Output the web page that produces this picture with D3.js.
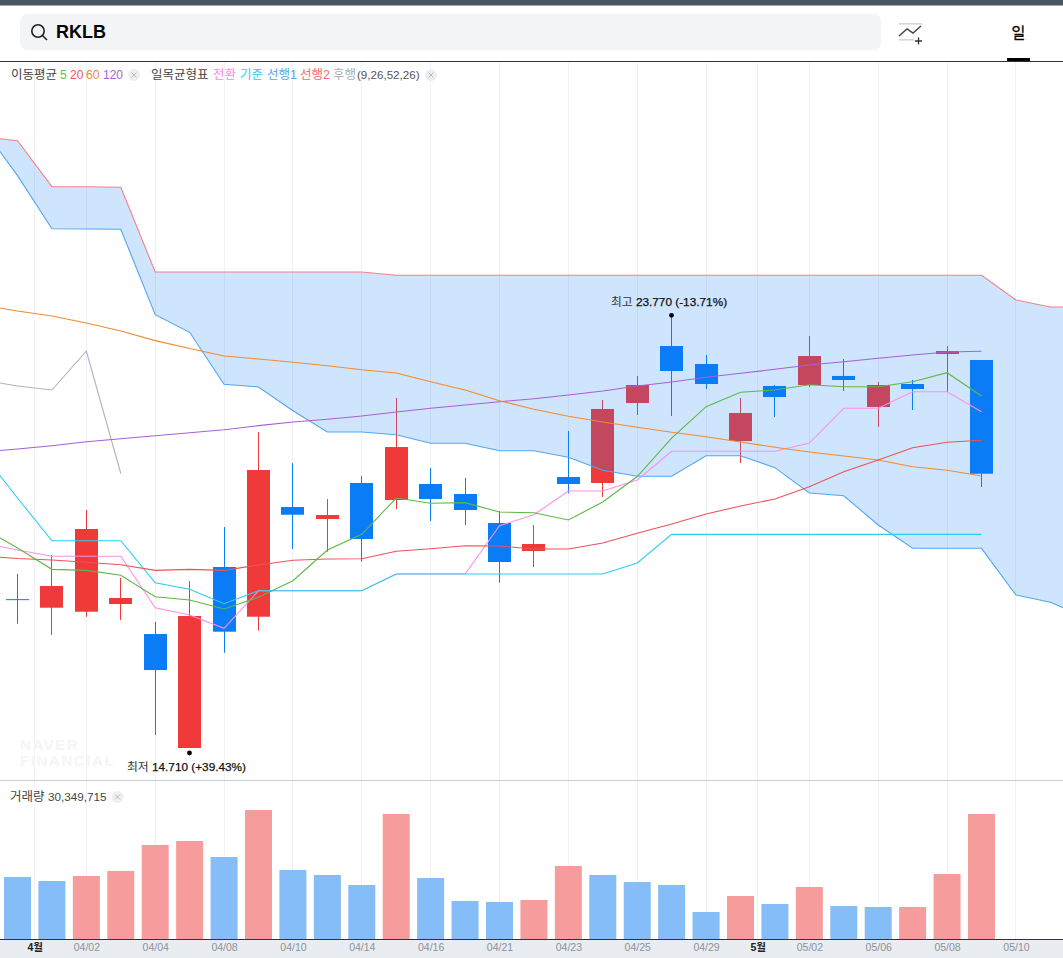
<!DOCTYPE html>
<html lang="ko">
<head>
<meta charset="utf-8">
<script src="https://cdn.jsdelivr.net/npm/d3@7/dist/d3.min.js"></script>
<style>
html,body{margin:0;padding:0;background:#fff;overflow:hidden}
svg{display:block}
text{font-family:"Liberation Sans","Noto Sans CJK KR",sans-serif}
</style>
</head>
<body>
<svg id="c" width="1063" height="958"></svg>
<script>
// Session index runs from -1 (off-screen left) to 31 (cloud projected to the right)
const openP  = [17.832,17.652,17.568,17.730,17.100,14.710,18.506,17.463,19.764,19.513,20.268,19.911,20.247,20.037,19.429,18.841,20.393,20.268,21.945,23.141,22.763,21.148,22.302,22.323,22.512,21.861,22.344,22.973,22.847];
const highP  = [18.359,18.757,19.701,18.275,17.352,18.212,19.345,21.337,20.687,19.932,20.414,22.050,20.582,20.372,19.680,19.387,21.358,22.008,22.512,23.770,22.952,22.050,22.323,23.351,22.868,22.386,22.428,23.141,22.847];
const lowP   = [17.317,17.080,17.463,17.394,14.982,14.710,16.708,17.170,18.883,18.827,18.617,19.722,19.470,19.387,18.176,18.506,20.052,19.974,21.694,21.673,22.239,20.687,21.652,22.281,22.197,21.442,21.798,22.176,20.184];
const closeP = [17.826,18.107,19.303,17.856,16.345,17.478,17.149,20.540,19.602,19.596,19.093,21.022,19.932,19.701,18.611,18.988,20.247,21.820,22.323,22.617,22.344,21.736,22.071,22.931,22.428,22.323,22.239,23.036,20.462];

const ma5   = [19.324,18.904,18.457,18.436,18.332,17.883,17.814,17.625,17.870,18.218,18.862,19.191,19.953,19.842,19.855,19.659,19.645,19.492,19.869,20.404,21.211,21.868,22.170,22.218,22.329,22.287,22.287,22.392,22.581,22.092];
const ma20  = [18.737,18.684,18.653,18.604,18.554,18.436,18.457,18.436,18.548,18.646,18.673,18.680,18.835,18.889,18.952,18.946,18.883,18.883,19.009,19.212,19.408,19.617,19.785,19.932,20.190,20.504,20.750,21.008,21.121,21.163];
const ma60  = [24.001,23.875,23.770,23.623,23.455,23.254,23.088,22.931,22.868,22.799,22.728,22.642,22.575,22.392,22.218,21.994,21.813,21.667,21.547,21.436,21.331,21.239,21.128,21.017,20.918,20.834,20.750,20.610,20.534,20.414];
const ma120 = [20.918,20.981,21.050,21.134,21.197,21.260,21.323,21.386,21.470,21.547,21.604,21.673,21.757,21.835,21.904,21.973,22.036,22.113,22.197,22.302,22.386,22.485,22.568,22.652,22.742,22.812,22.883,22.952,23.015,23.030];
const conversion = [19.009,18.862,18.730,18.730,18.730,17.652,17.499,17.220,18.008,18.008,18.008,18.008,18.359,18.359,18.359,19.372,19.602,20.100,20.100,20.330,20.932,20.932,20.932,20.932,21.106,21.835,21.835,22.182,22.182,21.763];
const baseLine   = [20.876,19.953,19.057,19.057,19.057,18.176,18.038,17.736,18.008,18.008,18.008,18.008,18.359,18.359,18.359,18.359,18.359,18.359,18.359,18.590,19.191,19.191,19.191,19.191,19.191,19.191,19.191,19.191,19.191,19.191];
const span1 = [27.705,26.713,25.601,25.595,25.588,23.797,23.428,22.338,22.281,21.784,21.337,21.337,21.280,21.100,21.100,20.945,20.945,20.806,20.534,20.408,20.408,20.840,20.840,20.589,20.058,20.001,19.387,18.898,18.898,18.898,17.918,17.766,17.463];
const span2 = [27.524,27.447,26.482,26.482,26.469,24.693,24.693,24.693,24.693,24.693,24.693,24.693,24.624,24.624,24.624,24.624,24.624,24.624,24.624,24.624,24.624,24.624,24.624,24.624,24.624,24.624,24.624,24.624,24.624,24.624,24.106,23.959,23.959];
const lagging = [22.428,22.302,22.218,23.036,20.467];

const volume = [15050000,14080000,15300000,16510000,22820000,23790000,19910000,31320000,16750000,15540000,13110000,30349000,14810000,9230000,8980000,9470000,17720000,15540000,13840000,13110000,6560000,10440000,8500000,12630000,8010000,7770000,7770000,15780000,30349715];
const volumeUp = [0,0,1,1,1,1,0,1,0,0,0,1,0,0,0,1,1,0,0,0,0,1,0,1,0,0,1,1,1];

const tickPositions = [0.5,2,4,6,8,10,12,14,16,18,20,21.5,23,25,27,29];
const tickLabels = ["4월","04/02","04/04","04/08","04/10","04/14","04/16","04/21","04/23","04/25","04/29","5월","05/02","05/06","05/08","05/10"];

const maLegend = [["5","#5cc43f",60],["20","#f5555a",70],["60","#f58a2c",86],["120","#a860dc",103]];
const ichiLegend = [["전환","#ff85e6",213],["기준","#2ccdf0",240],["선행1","#53a6f2",267],["선행2","#f7696e",300],["후행","#a9aeb8",333]];

const W = 1063, H = 958;
const RED = "#f03a3a", BLUE = "#0a7cf5";
const svg = d3.select("#c");

const x = d3.scaleLinear().domain([0,28]).range([17.5,981.5]);
const y = d3.scaleLinear().domain([14.71,23.77]).range([748,316]);
const yV = d3.scaleLinear().domain([0,30349715]).range([939,814]);
const px = i => Math.floor(x(i)) + 0.5;

const defs = svg.append("defs");
defs.append("clipPath").attr("id","main").append("rect").attr("x",0).attr("y",62).attr("width",W).attr("height",718);

// header
svg.append("rect").attr("width",W).attr("height",5.5).attr("fill","#45565f");
svg.append("rect").attr("x",20).attr("y",14).attr("width",861).attr("height",36).attr("rx",7).attr("fill","#f2f4f6");
svg.append("circle").attr("cx",38).attr("cy",31).attr("r",6.2).attr("fill","none").attr("stroke","#222").attr("stroke-width",1.6);
svg.append("line").attr("x1",42.5).attr("y1",35.5).attr("x2",47).attr("y2",40).attr("stroke","#222").attr("stroke-width",1.6);
svg.append("text").attr("x",56).attr("y",38).attr("font-size",18).attr("font-weight",700).attr("fill","#000").text("RKLB");
svg.append("rect").attr("x",899).attr("y",23).attr("width",23).attr("height",1.6).attr("fill","#d4d6da");
svg.append("rect").attr("x",899).attr("y",39).attr("width",15).attr("height",1.6).attr("fill","#d4d6da");
svg.append("polyline").attr("points","899,36 907,29 913,33 921,26").attr("fill","none").attr("stroke","#444").attr("stroke-width",1.4);
svg.append("path").attr("d","M915 41H922M918.5 37.5V44.5").attr("stroke","#333").attr("stroke-width",1.3);
svg.append("text").attr("x",1018.5).attr("y",38).attr("text-anchor","middle").attr("font-size",15).attr("font-weight",400).attr("stroke","#000").attr("stroke-width",0.3).attr("fill","#000").text("일");
svg.append("rect").attr("x",0).attr("y",61).attr("width",W).attr("height",1).attr("fill","#333");
svg.append("rect").attr("x",1007).attr("y",58).attr("width",23).attr("height",3).attr("fill","#000");

// grid
const grid = svg.append("g");
grid.selectAll("line").data(tickPositions).join("line")
  .attr("x1",d=>Math.floor(x(d))+0.5).attr("x2",d=>Math.floor(x(d))+0.5)
  .attr("y1",62).attr("y2",939).attr("stroke","#f0f2f6").attr("stroke-width",1);

// watermark
const wm = svg.append("g").attr("font-size",15).attr("font-weight",700).attr("fill","#f4f5f8").attr("letter-spacing",1.6);
wm.append("text").attr("x",20).attr("y",750).text("NAVER");
wm.append("text").attr("x",20).attr("y",766).text("FINANCIAL");

const main = svg.append("g").attr("clip-path","url(#main)");

// candles
const idx = d3.range(openP.length);
const up = i => closeP[i] >= openP[i];
main.append("g").selectAll("line").data(idx).join("line")
  .attr("x1",px).attr("x2",px)
  .attr("y1",i=>y(highP[i])).attr("y2",i=>y(lowP[i]))
  .attr("stroke",i=>up(i)?RED:BLUE).attr("stroke-width",1);
main.append("g").selectAll("rect").data(idx).join("rect")
  .attr("x",i=>Math.floor(x(i))-11).attr("width",23)
  .attr("y",i=>y(Math.max(openP[i],closeP[i])))
  .attr("height",i=>Math.max(1,Math.abs(y(openP[i])-y(closeP[i]))))
  .attr("fill",i=>up(i)?RED:BLUE);

// cloud, translucent over the candles
const cloudIdx = d3.range(span1.length);
main.append("path")
  .attr("d",d3.area().x(i=>x(i-1)).y0(i=>y(span1[i])).y1(i=>y(span2[i]))(cloudIdx))
  .attr("fill","#0a7cf5").attr("fill-opacity",0.2);

// lines
const lineOf = arr => d3.line().x((d,i)=>x(i-1)).y(d=>y(d))(arr);
const lines = [
  [span2,"#f77f85"],[span1,"#53a6f2"],[lagging,"#aeb2bd"],
  [conversion,"#ff8ee8"],[baseLine,"#2ccdf0"],
  [ma120,"#a860d8"],[ma60,"#f58a2c"],[ma20,"#ee5258"],[ma5,"#5cb946"]
];
main.append("g").selectAll("path").data(lines).join("path")
  .attr("d",d=>lineOf(d[0])).attr("fill","none").attr("stroke",d=>d[1]).attr("stroke-width",1.1);

// high / low markers
const iHigh = d3.maxIndex(highP);
const iLow = d3.minIndex(lowP);
svg.append("circle").attr("cx",px(iHigh)).attr("cy",y(highP[iHigh])-0.7).attr("r",2.4).attr("fill","#000");
svg.append("circle").attr("cx",px(iLow)).attr("cy",y(lowP[iLow])+5).attr("r",2.4).attr("fill","#000");
function extreme(cx,yy,word,rest){
  const t = svg.append("text").attr("x",cx).attr("y",yy).attr("text-anchor","middle").attr("font-size",11.8).attr("fill","#111");
  t.append("tspan").attr("fill","#333").text(word+" ");
  t.append("tspan").attr("stroke","#111").attr("stroke-width",0.25).text(rest);
}
extreme(669,305.5,"최고","23.770 (-13.71%)");
extreme(186.5,771,"최저","14.710 (+39.43%)");

// pane divider
svg.append("rect").attr("x",0).attr("y",780).attr("width",W).attr("height",1).attr("fill","#c6ccd6");

// volume bars
svg.append("g").selectAll("rect").data(idx).join("rect")
  .attr("x",i=>x(i)-13.5).attr("width",27)
  .attr("y",i=>yV(volume[i])).attr("height",i=>yV(0)-yV(volume[i]))
  .attr("fill",i=>volumeUp[i]?"#f79c9c":"#85bdf8");

// legends
function closeBtn(cx,cy){
  svg.append("circle").attr("cx",cx).attr("cy",cy).attr("r",6).attr("fill","#eeeff1");
  svg.append("path").attr("d",`M${cx-2.5} ${cy-2.5}L${cx+2.5} ${cy+2.5}M${cx+2.5} ${cy-2.5}L${cx-2.5} ${cy+2.5}`).attr("stroke","#bbb").attr("stroke-width",1);
}
const leg = svg.append("g").attr("font-size",12.5);
leg.append("text").attr("x",11).attr("y",79).attr("fill","#444").text("이동평균");
maLegend.forEach(d=>leg.append("text").attr("x",d[2]).attr("y",79).attr("font-size",12).attr("fill",d[1]).text(d[0]));
closeBtn(134,75);
leg.append("text").attr("x",151).attr("y",79).attr("fill","#444").text("일목균형표");
ichiLegend.forEach(d=>leg.append("text").attr("x",d[2]).attr("y",79).attr("fill",d[1]).text(d[0]));
leg.append("text").attr("x",357).attr("y",79).attr("font-size",11.6).attr("fill","#555").text("(9,26,52,26)");
closeBtn(431,75);
const volText = leg.append("text").attr("x",10).attr("y",801).attr("fill","#444");
volText.append("tspan").text("거래량 ");
volText.append("tspan").attr("font-size",11.7).text(d3.format(",")(volume[volume.length-1]));
closeBtn(117.5,797);

// time axis
svg.append("rect").attr("x",0).attr("y",939).attr("width",W).attr("height",19).attr("fill","#e9ecf0");
const axis = svg.append("g").attr("transform","translate(0,939)")
  .call(d3.axisBottom(x).tickValues(tickPositions).tickSize(0).tickPadding(5).tickFormat((d,i)=>tickLabels[i]));
axis.select(".domain").attr("stroke","#333").attr("stroke-width",1).attr("d",`M0 0.5H${W}`);
axis.selectAll("text").attr("font-size",10.5)
  .attr("font-family",'"Liberation Sans","Noto Sans CJK KR",sans-serif')
  .attr("fill",d=>Number.isInteger(d)?"#8b929d":"#222")
  .attr("font-weight",d=>Number.isInteger(d)?400:700);
</script>
</body>
</html>
